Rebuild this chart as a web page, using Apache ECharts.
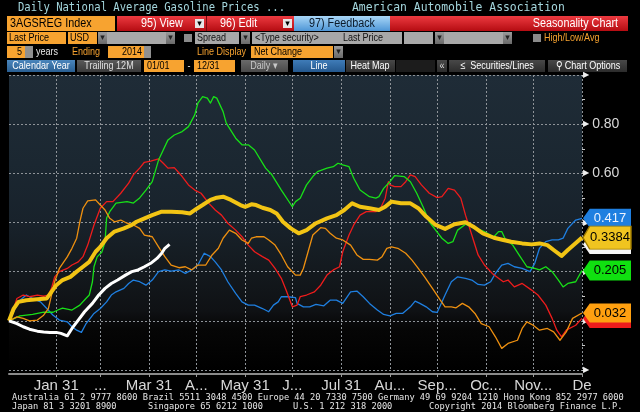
<!DOCTYPE html>
<html><head><meta charset="utf-8">
<script src="https://cdn.jsdelivr.net/npm/echarts@6/dist/echarts.min.js"></script>
<style>html,body{margin:0;padding:0;background:#000;}#c{width:640px;height:412px;}</style>
</head><body><div id="c"></div>
<script>
// ---------- data ----------
const monthLengths = [31,28,31,30,31,30,31,31,30,31,30,31];
const tickLabels = ["Jan 31","...","Mar 31","A...","May 31","J...","Jul 31","Au...","Sep...","Oc...","Nov...","De"];
const yLabelText = {"0.8":"0.80","0.6":"0.60"};
const titleLeft = "Daily National Average Gasoline Prices ...";
const titleRight = "American Automobile Association";
const footer1 = "Australia 61 2 9777 8600 Brazil 5511 3048 4500 Europe 44 20 7330 7500 Germany 49 69 9204 1210 Hong Kong 852 2977 6000";
const footer2 = ["Japan 81 3 3201 8900","Singapore 65 6212 1000","U.S. 1 212 318 2000","Copyright 2014 Bloomberg Finance L.P."];

// [day of year index, net change]
const green = [[0,0],[7,0.02],[15,0.026],[22,0.035],[28,0.035],[31,0.044],[34,0.052],[40,0.044],[45,0.064],[49,0.092],[51,0.105],[53,0.159],[54,0.22],[56,0.26],[59,0.28],[61,0.32],[62,0.418],[64,0.444],[68,0.479],[75,0.485],[79,0.479],[83,0.50],[87,0.532],[91,0.566],[95,0.654],[101,0.736],[105,0.756],[110,0.77],[114,0.79],[118,0.838],[120,0.886],[123,0.912],[126,0.906],[128,0.886],[130,0.912],[132,0.906],[136,0.851],[138,0.804],[144,0.743],[148,0.716],[152,0.716],[156,0.695],[163,0.621],[167,0.594],[173,0.532],[180,0.464],[182,0.485],[185,0.499],[189,0.553],[193,0.587],[196,0.607],[202,0.621],[206,0.627],[209,0.641],[212,0.634],[216,0.627],[219,0.58],[223,0.532],[229,0.505],[233,0.499],[235,0.505],[238,0.539],[242,0.566],[245,0.591],[251,0.587],[255,0.566],[259,0.519],[263,0.464],[267,0.403],[271,0.369],[275,0.336],[279,0.315],[282,0.322],[285,0.369],[290,0.393],[294,0.383],[302,0.363],[308,0.342],[311,0.363],[313,0.363],[315,0.336],[320,0.308],[324,0.268],[329,0.22],[334,0.213],[337,0.207],[341,0.22],[345,0.20],[349,0.166],[352,0.138],[355,0.152],[360,0.159],[364,0.205]];
const red = [[0,0],[3,0.05],[5,0.091],[9,0.105],[13,0.098],[18,0.105],[22,0.10],[25,0.105],[27,0.132],[29,0.179],[32,0.20],[37,0.213],[40,0.227],[44,0.24],[47,0.261],[50,0.308],[54,0.39],[58,0.458],[62,0.485],[66,0.485],[71,0.519],[76,0.56],[79,0.594],[83,0.621],[86,0.645],[90,0.65],[91,0.645],[95,0.659],[98,0.641],[101,0.621],[105,0.623],[110,0.587],[114,0.553],[118,0.532],[122,0.519],[127,0.478],[131,0.451],[135,0.43],[139,0.397],[144,0.369],[148,0.342],[152,0.308],[156,0.281],[161,0.261],[165,0.247],[169,0.213],[173,0.173],[176,0.125],[180,0.057],[181,0.05],[183,0.064],[185,0.098],[189,0.105],[194,0.118],[198,0.145],[202,0.186],[206,0.207],[210,0.22],[212,0.281],[216,0.349],[219,0.39],[223,0.43],[227,0.444],[233,0.444],[236,0.458],[239,0.499],[241,0.566],[242,0.553],[245,0.546],[249,0.546],[252,0.566],[255,0.594],[258,0.587],[262,0.553],[267,0.519],[272,0.501],[275,0.505],[279,0.539],[283,0.532],[287,0.499],[290,0.43],[294,0.349],[298,0.268],[302,0.227],[307,0.193],[311,0.173],[314,0.159],[317,0.166],[321,0.138],[326,0.152],[332,0.125],[336,0.105],[341,0.064],[345,0.01],[348,-0.038],[351,-0.065],[354,-0.038],[360,-0.018],[364,0.01]];
const orange = [[0,0],[5,0.016],[9,0.01],[13,0],[18,0.003],[22,0.023],[25,0.05],[26,0.077],[29,0.159],[32,0.213],[37,0.26],[40,0.295],[43,0.336],[45,0.403],[47,0.458],[50,0.488],[55,0.492],[58,0.471],[61,0.451],[64,0.417],[67,0.403],[71,0.41],[75,0.397],[79,0.39],[83,0.376],[86,0.349],[91,0.342],[95,0.301],[99,0.261],[103,0.227],[108,0.216],[112,0.22],[116,0.207],[120,0.227],[125,0.227],[129,0.268],[133,0.295],[136,0.336],[140,0.369],[144,0.356],[148,0.329],[152,0.315],[154,0.336],[157,0.342],[162,0.342],[165,0.329],[169,0.308],[173,0.268],[177,0.22],[182,0.186],[185,0.186],[187,0.213],[190,0.281],[193,0.349],[198,0.379],[201,0.376],[204,0.356],[208,0.336],[212,0.329],[217,0.308],[221,0.268],[225,0.25],[229,0.25],[234,0.247],[237,0.261],[240,0.295],[243,0.301],[247,0.295],[252,0.275],[256,0.247],[260,0.213],[264,0.179],[269,0.132],[274,0.084],[277,0.057],[281,0.057],[284,0.053],[288,0.071],[292,0.057],[296,0.03],[300,-0.011],[305,-0.024],[309,-0.065],[313,-0.112],[317,-0.092],[323,-0.079],[326,-0.031],[329,-0.004],[333,-0.018],[337,-0.038],[342,-0.031],[346,-0.045],[350,-0.079],[354,-0.045],[358,0.01],[364,0.032]];
const blue = [[0,0],[4,0.05],[7,0.084],[11,0.105],[15,0.091],[20,0.077],[24,0.05],[28,0.023],[32,0.003],[37,-0.004],[40,-0.024],[43,-0.038],[46,-0.047],[49,-0.011],[54,0.03],[58,0.05],[62,0.077],[65,0.105],[68,0.118],[73,0.132],[76,0.152],[79,0.166],[83,0.159],[87,0.145],[91,0.166],[95,0.20],[99,0.207],[103,0.202],[108,0.207],[112,0.193],[116,0.207],[120,0.227],[124,0.275],[128,0.261],[131,0.24],[135,0.207],[139,0.159],[144,0.112],[148,0.077],[152,0.064],[156,0.064],[161,0.05],[165,0.037],[168,0.064],[171,0.077],[173,0.098],[177,0.098],[182,0.094],[183,0.071],[187,0.057],[191,0.057],[195,0.067],[200,0.061],[204,0.084],[208,0.084],[212,0.071],[217,0.118],[221,0.121],[225,0.098],[229,0.071],[234,0.044],[238,0.026],[242,0.02],[246,0.03],[250,0.03],[255,0.057],[258,0.08],[261,0.071],[265,0.057],[269,0.037],[272,0.034],[277,0.105],[281,0.159],[285,0.179],[290,0.173],[294,0.166],[298,0.148],[302,0.145],[306,0.159],[309,0.193],[313,0.227],[317,0.234],[321,0.22],[326,0.213],[331,0.20],[334,0.234],[337,0.295],[341,0.322],[345,0.329],[349,0.329],[352,0.336],[355,0.376],[360,0.41],[364,0.417]];
const average = [[0,0],[3,0.05],[6,0.077],[11,0.084],[18,0.088],[24,0.091],[27,0.118],[30,0.145],[34,0.166],[39,0.179],[43,0.20],[47,0.22],[51,0.24],[55,0.281],[58,0.301],[62,0.336],[67,0.363],[73,0.376],[78,0.39],[81,0.403],[85,0.414],[91,0.43],[97,0.444],[103,0.444],[110,0.442],[115,0.437],[119,0.455],[123,0.471],[128,0.492],[132,0.501],[136,0.505],[141,0.492],[147,0.471],[150,0.464],[154,0.474],[157,0.471],[161,0.46],[166,0.451],[170,0.437],[174,0.403],[179,0.376],[184,0.356],[189,0.369],[195,0.397],[202,0.417],[208,0.43],[213,0.451],[218,0.478],[223,0.464],[229,0.458],[235,0.451],[239,0.464],[243,0.485],[249,0.478],[255,0.478],[260,0.458],[265,0.424],[271,0.39],[277,0.374],[283,0.393],[290,0.401],[295,0.383],[301,0.356],[308,0.338],[314,0.329],[319,0.322],[326,0.315],[332,0.311],[337,0.315],[342,0.308],[346,0.288],[351,0.264],[355,0.288],[361,0.322],[364,0.3384]];
const current = [[0,0],[5,-0.011],[9,-0.024],[13,-0.034],[18,-0.042],[22,-0.045],[26,-0.047],[30,-0.047],[33,-0.051],[37,-0.061],[40,-0.031],[44,0.003],[48,0.037],[53,0.071],[57,0.105],[61,0.132],[65,0.152],[69,0.166],[74,0.186],[78,0.20],[82,0.207],[86,0.22],[90,0.234],[94,0.254],[97,0.275],[99,0.295],[102,0.311]];
const tagText = {blue:"0.417", average:"0.3384", green:"0.205", orange:"0.032", red:"0.010", current:"0.311"};

// ---------- derived axis domain ----------
const categories = [];
const monthEnds = [];
monthLengths.forEach((n, m) => {
  for (let d = 1; d <= n; d++) categories.push((m + 1) + "/" + d);
  monthEnds.push(categories.length - 1);
});
const isMonthEnd = (i) => monthEnds.indexOf(i) >= 0;

const SANS = "'Liberation Sans',Arial,sans-serif";
const ORANGE = "#f7a330";

// ---------- header graphics ----------
const G = [];
function grad(c1, c2) { return new echarts.graphic.LinearGradient(0, 0, 0, 1, [{offset: 0, color: c1}, {offset: 1, color: c2}]); }
function rect(x, y, w, h, fill) { G.push({type: 'rect', shape: {x: x, y: y, width: w, height: h}, style: {fill: fill}, silent: true, z: 100}); }
function txt(x, y, t, fill, font, align, sx) {
  G.push({type: 'text', x: x, y: y, scaleX: sx || 0.82, silent: true, z: 101,
    style: {text: t, x: 0, y: 0, fill: fill, font: font, align: align || 'left', verticalAlign: 'middle', textAlign: align || 'left', textVerticalAlign: 'middle'}});
}
const F11 = "11px " + SANS;
const F12 = "12px " + SANS;
function arrowBtn(x, y, h) { rect(x, y, 9, h, grad('#9a9a9a', '#6a6a6a')); txt(x + 4.5, y + h / 2, '▾', '#222', '9px DejaVu Sans', 'center', 1); }

// title row
txt(18, 8, titleLeft, '#a4d6dd', "12px 'DejaVu Sans Mono',monospace", 'left', 0.88);
txt(352, 8, titleRight, '#a4d6dd', "12px 'DejaVu Sans Mono',monospace", 'left', 0.95);
// row 2
rect(7, 16, 108, 15, ORANGE); txt(10, 23.5, '3AGSREG Index', '#000', F12, 'left', 0.9);
rect(117, 16, 511, 15, grad('#ec3a40', '#b50c12'));
txt(141, 23.5, '95) View', '#fff', F12, 'left', 0.9);
rect(195, 19, 9, 9, '#e6e6e6'); txt(199.5, 23.5, '▾', '#000', '9px DejaVu Sans', 'center', 1);
rect(206, 16, 1, 15, '#7a0a0e');
txt(220, 23.5, '96) Edit', '#fff', F12, 'left', 0.9);
rect(283, 19, 9, 9, '#e6e6e6'); txt(287.5, 23.5, '▾', '#000', '9px DejaVu Sans', 'center', 1);
rect(294, 16, 96, 15, grad('#a8d6f7', '#4e96d6')); txt(342, 23.5, '97) Feedback', '#0b1a2a', F12, 'center', 0.9);
txt(618, 23.5, 'Seasonality Chart', '#fff', F12, 'right', 0.9);
// row 3
rect(7, 32, 59, 12, ORANGE); txt(9, 38, 'Last Price', '#000', F11);
rect(68, 32, 29, 12, ORANGE); txt(70, 38, 'USD', '#000', F11);
rect(98, 32, 77, 12, '#a8a8a8'); arrowBtn(98, 32, 12); arrowBtn(166, 32, 12);
rect(184, 34, 8, 8, '#8a8a8a');
rect(195, 32, 44, 12, '#a8a8a8'); txt(197, 38, 'Spread', '#111', F11);
arrowBtn(241, 32, 12);
rect(252, 32, 150, 12, '#a8a8a8'); txt(255, 38, '<Type security>', '#111', F11); txt(343, 38, 'Last Price', '#111', F11);
rect(404, 32, 29, 12, '#a8a8a8'); arrowBtn(435, 32, 12); rect(444, 32, 59, 12, '#a8a8a8'); arrowBtn(503, 32, 12);
rect(533, 34, 8, 8, '#8a8a8a');
txt(544, 38, 'High/Low/Avg', ORANGE, F11);
// row 4
rect(7, 46, 18, 12, ORANGE); txt(22, 52, '5', '#000', F11, 'right');
rect(25, 46, 8, 12, '#909090');
txt(36, 52, 'years', '#e8e8e8', F11);
txt(72, 52, 'Ending', ORANGE, F11);
rect(108, 46, 36, 12, ORANGE); txt(142, 52, '2014', '#000', F11, 'right');
rect(144, 46, 7, 12, '#909090');
txt(197, 52, 'Line Display', ORANGE, F11);
rect(251, 46, 82, 12, ORANGE); txt(254, 52, 'Net Change', '#000', F11);
arrowBtn(334, 46, 12);
// row 5
rect(7, 60, 68, 12, grad('#4a86bd', '#2a5f92')); txt(41, 66, 'Calendar Year', '#fff', F11, 'center');
rect(77, 60, 64, 12, grad('#5a5a5a', '#3a3a3a')); txt(109, 66, 'Trailing 12M', '#e0e0e0', F11, 'center');
rect(144, 60, 40, 12, ORANGE); txt(147, 66, '01/01', '#000', F11);
txt(189, 66, '-', '#ddd', F11, 'center');
rect(194, 60, 41, 12, ORANGE); txt(197, 66, '12/31', '#000', F11);
rect(241, 60, 47, 12, grad('#6a6a6a', '#4a4a4a')); txt(264, 66, 'Daily ▾', '#c8c8c8', F11, 'center');
rect(293, 60, 52, 12, grad('#3f7cb8', '#24588e')); txt(319, 66, 'Line', '#fff', F11, 'center');
rect(346, 60, 49, 12, grad('#484848', '#2c2c2c')); txt(370, 66, 'Heat Map', '#fff', F11, 'center');
rect(396, 60, 39, 12, '#1c1c1c');
rect(437, 60, 10, 12, grad('#484848', '#2c2c2c')); txt(442, 66, '«', '#ddd', F11, 'center');
rect(449, 60, 96, 12, grad('#484848', '#2c2c2c')); txt(497, 66, '≤  Securities/Lines', '#fff', F11, 'center');
rect(548, 60, 79, 12, grad('#484848', '#2c2c2c')); txt(588, 66, '⚲ Chart Options', '#fff', F11, 'center');
// footer
txt(12, 398, footer1, '#e6e6e6', "9px 'DejaVu Sans Mono',monospace", 'left', 0.965);
[12, 148, 293, 429].forEach((x, i) => txt(x, 407, footer2[i], '#e6e6e6', "9px 'DejaVu Sans Mono',monospace", 'left', 0.965));

// ---------- series ----------
function tag(data, label, fill, textColor, h, z, border) {
  const last = data[data.length - 1];
  return {
    z: z,
    symbol: 'path://M0,10 L7,0 L50,0 L50,20 L7,20 Z',
    symbolSize: [48, h],
    symbolOffset: [25, 0],
    silent: true,
    itemStyle: {color: fill, borderColor: border || fill, borderWidth: border ? 1 : 0},
    label: {show: true, position: 'inside', offset: [3, 0], formatter: label, color: textColor, fontSize: 13, fontFamily: SANS},
    data: [{coord: [364, last[1]]}]
  };
}
function line(name, data, color, width, z, mp) {
  return {name: name, type: 'line', data: data, symbol: 'none', smooth: false, z: z,
    lineStyle: {color: color, width: width, join: 'round'}, itemStyle: {color: color}, markPoint: mp};
}
const series = [
  line('blue', blue, '#1f7fe0', 1.3, 2, tag(blue, tagText.blue, '#1f7fe0', '#eef4ff', 19, 10)),
  line('red', red, '#ee1c1c', 1.3, 3, tag(red, tagText.red, '#ee1c1c', '#ffffff', 19, 10)),
  line('current', current, '#ffffff', 3, 7, tag(current, tagText.current, '#f4f4f4', '#000', 19, 11)),
  line('green', green, '#18e018', 1.3, 4, tag(green, tagText.green, '#10e010', '#000', 20, 10)),
  line('orange', orange, '#ee9010', 1.3, 5, tag(orange, tagText.orange, '#ffa010', '#000', 19, 12)),
  line('average', average, '#f2c414', 4, 6, tag(average, tagText.average, '#f0c420', '#000', 23, 13, '#a07c00'))
];

const chart = echarts.init(document.getElementById('c'), null, {renderer: 'canvas'});
chart.setOption({
  animation: false,
  backgroundColor: '#000',
  grid: {left: 9, right: 58, top: 75, bottom: 42, show: true, borderWidth: 0,
    backgroundColor: new echarts.graphic.LinearGradient(0, 0, 0, 1, [
      {offset: 0, color: '#1f2c37'}, {offset: 0.3, color: '#1b2731'}, {offset: 0.5, color: '#18222b'},
      {offset: 0.65, color: '#141a1f'}, {offset: 0.8, color: '#0f1114'}, {offset: 0.86, color: '#060606'}, {offset: 1, color: '#000'}])},
  xAxis: {
    type: 'category', data: categories, boundaryGap: false, offset: 4,
    axisLine: {show: true, onZero: false, lineStyle: {color: '#8a8a8a', width: 2}},
    axisTick: {show: true, interval: (i) => isMonthEnd(i), length: 3, lineStyle: {color: '#9a9a9a'}},
    axisLabel: {interval: (i) => isMonthEnd(i), formatter: (v, i) => tickLabels[monthEnds.indexOf(i)] || '',
      color: '#d8d8d8', fontSize: 15, fontFamily: SANS, margin: 4},
    splitLine: {show: true, interval: (i) => isMonthEnd(i), lineStyle: {type: [2, 2], color: '#8e9398', width: 1}}
  },
  yAxis: [
    {type: 'value', position: 'right', min: -0.2, max: 1.0, interval: 0.1,
      axisLine: {show: false}, splitLine: {show: false},
      axisTick: {show: true, length: 3, lineStyle: {color: '#c8c8c8'}},
      axisLabel: {margin: 1, formatter: (v) => {
        const r = Math.round(v * 10) / 10;
        if (Math.abs(r * 5 - Math.round(r * 5)) > 1e-6) return '';
        const t = yLabelText[String(r)];
        return t ? '{a|▶}{b|' + t + '}' : '{a|▶}';
      }, rich: {a: {color: '#f0f0f0', fontSize: 8, fontFamily: 'DejaVu Sans'}, b: {color: '#d8d8d8', fontSize: 14, fontFamily: SANS, padding: [0, 0, 0, 3]}}}},
    {type: 'value', position: 'left', min: -0.2, max: 1.0, interval: 0.2,
      axisLine: {show: false}, axisTick: {show: false}, axisLabel: {show: false},
      splitLine: {show: true, lineStyle: {type: [2, 2], color: '#8e9398', width: 1}}}
  ],
  graphic: {elements: G},
  series: series
});
</script></body></html>
